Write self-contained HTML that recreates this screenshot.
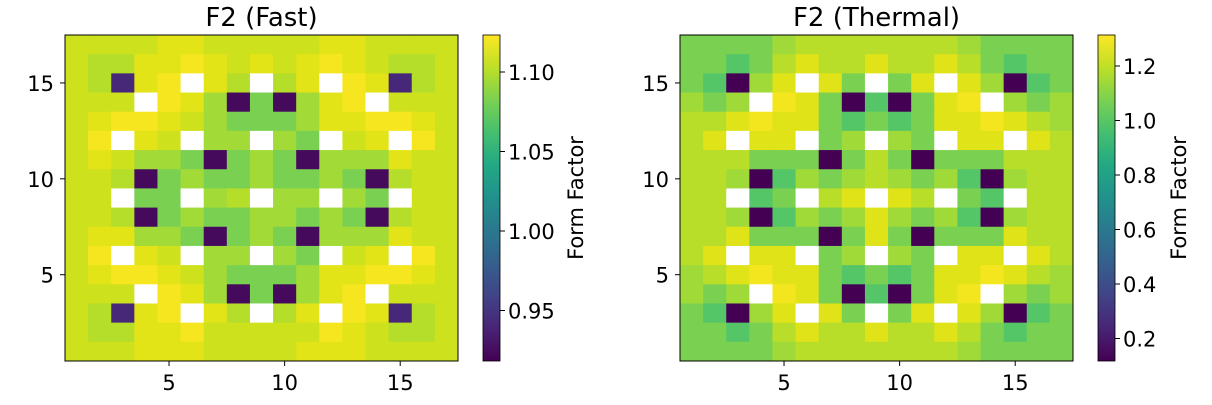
<!DOCTYPE html>
<html><head><meta charset="utf-8"><style>
html,body{margin:0;padding:0;background:#fff;}
svg{display:block;font-family:"DejaVu Sans","Liberation Sans",sans-serif;}
</style></head><body>
<svg id="s" width="1212" height="405" xmlns="http://www.w3.org/2000/svg">
<defs>
<linearGradient id="vir" x1="0" y1="1" x2="0" y2="0">
<stop offset="0" stop-color="#440154"/><stop offset="0.1" stop-color="#482475"/>
<stop offset="0.2" stop-color="#414487"/><stop offset="0.3" stop-color="#355f8d"/>
<stop offset="0.4" stop-color="#2a788e"/><stop offset="0.5" stop-color="#21918c"/>
<stop offset="0.6" stop-color="#22a884"/><stop offset="0.7" stop-color="#44bf70"/>
<stop offset="0.8" stop-color="#7ad151"/><stop offset="0.9" stop-color="#bddf26"/>
<stop offset="1" stop-color="#fde725"/>
</linearGradient>
</defs>
</svg>
<script>
const L=["llllyylllllyyllll","lkkyyYylylyYylkkl","lkPyYWykWkyWYyPkl","lllWYygDGDgyYWlll","lyYYylgGGGgyyYYyl","lYWylWggWgGWlyWYl","lylggGDGgGDgggyll","llkDGgGGgGGgGDkll","llWGGWgkWggWgGWll","llkDGgGGggGgGDkll","lyyggGDGgGDgggyll","lYWylWggWgGWlyWYl","lyYYylgGGGgyyYYyl","lllWYygDGDgyYWlll","lkPyYWykWkyWYyPkl","lkkyyYlllllYylkkl","lllyyyllllyyyllll"];
const LC={l:"#cde11d",y:"#e2e418",Y:"#f6e620",g:"#a2da37",G:"#7ad151",k:"#b5de2b",D:"#450a5c",P:"#472878",W:"#ffffff"};
const R=["GGGGgkkkkkkkgGGGG","GGTGkykkykkykGTGG","GTDgyWyGWGyWygDTG","gGgWYyGDTDGyYWgGg","kkyYyyGTGTGyyYykg","kyWyyWGgWgGWyyWyk","kkkGGGDGkGDGGGkkk","kkgDTgGgkgGgTDgkk","kkWTGWkyWykWGTWkk","kkgDTgGgygGgTDgkk","kkyGGGDGyGDGGGykk","kyWyyWGgWgGWyyWyk","gkyYyyGTGTGyyYykg","gGgWYyGDTDGyYWgGg","GTDgyWyGWGyWygDTG","GGTGkykkykkykGTGG","GGGGgkkkkkkkgGGGG"];
const RC={G:"#7ad151",T:"#55c667",g:"#a0da39",k:"#b8de29",y:"#dfe318",Y:"#f4e61e",D:"#440154",W:"#ffffff"};
const s=document.getElementById('s');let h='';
function panel(x0,grid,cmap,title,cbx,cbt){
 const x1=x0+393,y0=35,y1=361,cw=(x1-x0)/17,ch=(y1-y0)/17;
 for(let r=0;r<17;r++)for(let c=0;c<17;c++){
  h+=`<rect x="${(x0+c*cw).toFixed(2)}" y="${(y0+r*ch).toFixed(2)}" width="${(cw+0.4).toFixed(2)}" height="${(ch+0.4).toFixed(2)}" fill="${cmap[grid[r][c]]}"/>`;}
 h+=`<rect x="${x0}" y="${y0}" width="393" height="326" fill="none" stroke="#000" stroke-width="1"/>`;
 h+=`<text x="${x0+196.5}" y="26" font-size="26" text-anchor="middle">${title}</text>`;
 [5,10,15].forEach(v=>{const x=x0+(v-0.5)*cw;h+=`<line x1="${x}" y1="361" x2="${x}" y2="366" stroke="#000"/><text x="${x}" y="390" font-size="21" text-anchor="middle">${v}</text>`;
  const y=y1-(v-0.5)*ch;h+=`<line x1="${x0-5}" y1="${y}" x2="${x0}" y2="${y}" stroke="#000"/><text x="${x0-11}" y="${y+8}" font-size="21" text-anchor="end">${v}</text>`;});
 h+=`<rect x="${cbx}" y="35" width="17" height="326" fill="url(#vir)" stroke="#000" stroke-width="0.8"/>`;
 cbt.forEach(([t,y])=>{h+=`<line x1="${cbx+17}" y1="${y}" x2="${cbx+22}" y2="${y}" stroke="#000"/><text x="${cbx+25}" y="${y+8}" font-size="21">${t}</text>`;});
 const lx=cbx+(cbt[0][0].length>3?100:88);
 h+=`<text transform="translate(${lx},198) rotate(-90)" font-size="21" text-anchor="middle">Form Factor</text>`;
}
panel(65,L,LC,"F2 (Fast)",483,[["1.10",72],["1.05",151.5],["1.00",231],["0.95",310.5]]);
panel(680,R,RC,"F2 (Thermal)",1098,[["1.2",66],["1.0",120.5],["0.8",175],["0.6",229.5],["0.4",284],["0.2",338.5]]);
s.insertAdjacentHTML('beforeend',h);
</script>
</body></html>
